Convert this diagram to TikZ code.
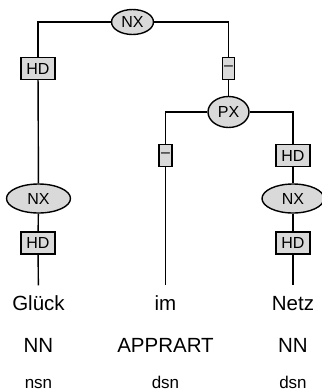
\documentclass[tikz,border=0pt]{standalone}
\usepackage{fontspec}
\setmainfont{Liberation Sans}
\usetikzlibrary{shapes.geometric}

\begin{document}
\begin{tikzpicture}[x=1pt,y=-1pt,line width=1.4pt]
		\tikzstyle{every node}+=[inner sep=0pt]
		\tikzstyle{cat}=[draw=black,fill=black!15,ellipse,font=\fontsize{16}{18}\selectfont]
		\tikzstyle{edgelab}=[draw=black,fill=black!15,rectangle,minimum height=22pt,font=\fontsize{16}{18}\selectfont]
		\tikzstyle{word}=[anchor=base,font=\fontsize{20.5}{24}\selectfont]
		\tikzstyle{tag}=[anchor=base,font=\fontsize{20.5}{24}\selectfont]
		\tikzstyle{morph}=[anchor=base,font=\fontsize{17}{20}\selectfont]
		\useasboundingbox (0,0) rectangle (322,392);
		% nodes
		\node [cat,minimum width=42pt,minimum height=25pt] (nx1) at (132.5,22) {NX};
		\node [edgelab,minimum width=34pt] (hd1) at (38,68.5) {HD};
		\node [edgelab,minimum width=12pt] (dash1) at (228.5,68.5) {--};
		\node [cat,minimum width=41pt,minimum height=31pt] (px) at (228.5,112) {PX};
		\node [edgelab,minimum width=13pt] (dash2) at (165.5,155.5) {--};
		\node [edgelab,minimum width=34pt] (hd3) at (293,155.5) {HD};
		\node [cat,minimum width=64pt,minimum height=29pt] (nx2) at (38.5,198.5) {NX};
		\node [cat,minimum width=62pt,minimum height=29pt] (nx3) at (293,198.5) {NX};
		\node [edgelab,minimum width=34pt] (hd2) at (38,243) {HD};
		\node [edgelab,minimum width=34pt] (hd4) at (293,243) {HD};
		\node [word,text height=15pt,inner ysep=9pt] (w1) at (38.5,310) {Glück};
		\node [word,text height=15pt,inner ysep=9pt] (w2) at (165.5,310) {im};
		\node [word,text height=15pt,inner ysep=9pt] (w3) at (293,310) {Netz};
		\node [tag] (t1) at (38.5,352) {NN};
		\node [tag] (t2) at (165.5,352) {APPRART};
		\node [tag] (t3) at (293,352) {NN};
		\node [morph] (m1) at (38.5,388) {nsn};
		\node [morph] (m2) at (165.5,388) {dsn};
		\node [morph] (m3) at (293,388) {dsn};
		% edges
		\draw [black] (nx1) -| (hd1);
		\draw [black] (hd1) -- (nx2);
		\draw [black] (nx2) -- (hd2);
		\draw [black] (hd2) -- (w1);
		\draw [black] (nx1) -| (dash1);
		\draw [black] (dash1) -- (px);
		\draw [black] (px) -| (dash2);
		\draw [black] (dash2) -- (w2);
		\draw [black] (px) -| (hd3);
		\draw [black] (hd3) -- (nx3);
		\draw [black] (nx3) -- (hd4);
		\draw [black] (hd4) -- (w3);
	\end{tikzpicture}
\end{document}
